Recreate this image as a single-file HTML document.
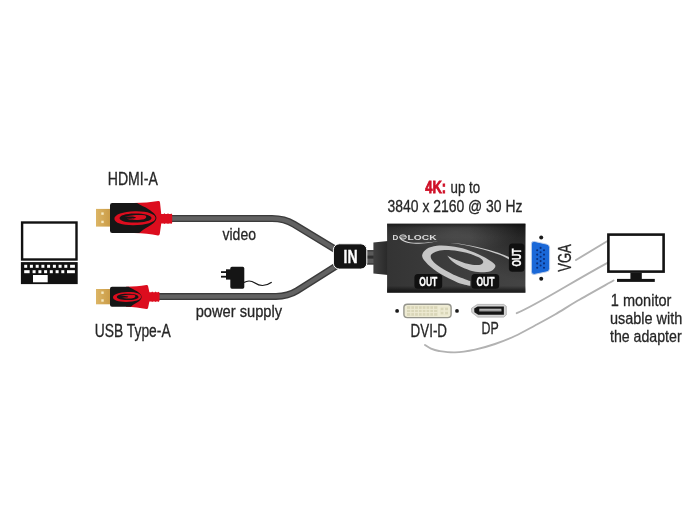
<!DOCTYPE html>
<html>
<head>
<meta charset="utf-8">
<title>Adapter diagram</title>
<style>
  html, body { margin: 0; padding: 0; background: #ffffff; }
  body { width: 700px; height: 530px; overflow: hidden; font-family: "Liberation Sans", sans-serif; }
  svg { display: block; }
  text { font-family: "Liberation Sans", sans-serif; }
  .t { fill: #262626; font-size: 17.8px; stroke: #262626; stroke-width: 0.3px; }
</style>
</head>
<body>
<svg style="will-change:transform" width="700" height="530" viewBox="0 0 700 530">
  <defs>
    <linearGradient id="cab" x1="0" y1="0" x2="0" y2="1">
      <stop offset="0" stop-color="#3a3a3a"/>
      <stop offset="0.3" stop-color="#6a6a6a"/>
      <stop offset="0.7" stop-color="#5a5a5a"/>
      <stop offset="1" stop-color="#333333"/>
    </linearGradient>
    <linearGradient id="gold" x1="0" y1="0" x2="1" y2="0">
      <stop offset="0" stop-color="#dcb565"/>
      <stop offset="1" stop-color="#c99a45"/>
    </linearGradient>
    <linearGradient id="body" x1="0" y1="0" x2="1" y2="0">
      <stop offset="0" stop-color="#343434"/>
      <stop offset="0.45" stop-color="#3c3c3c"/>
      <stop offset="1" stop-color="#444444"/>
    </linearGradient>
    <radialGradient id="bodyr" gradientUnits="userSpaceOnUse" cx="528" cy="222" r="60">
      <stop offset="0" stop-color="#000" stop-opacity="0.6"/>
      <stop offset="0.5" stop-color="#000" stop-opacity="0.3"/>
      <stop offset="1" stop-color="#000" stop-opacity="0"/>
    </radialGradient>
    <radialGradient id="bodyl" gradientUnits="userSpaceOnUse" cx="455" cy="232" r="40" gradientTransform="translate(455 232) scale(1.6 0.5) translate(-455 -232)">
      <stop offset="0" stop-color="#fff" stop-opacity="0.09"/>
      <stop offset="1" stop-color="#fff" stop-opacity="0"/>
    </radialGradient>
    <linearGradient id="bodyv" x1="0" y1="0" x2="0" y2="1">
      <stop offset="0" stop-color="#000" stop-opacity="0.5"/>
      <stop offset="0.06" stop-color="#000" stop-opacity="0.15"/>
      <stop offset="0.2" stop-color="#000" stop-opacity="0"/>
      <stop offset="0.9" stop-color="#000" stop-opacity="0"/>
      <stop offset="0.96" stop-color="#000" stop-opacity="0.45"/>
      <stop offset="1" stop-color="#000" stop-opacity="0.6"/>
    </linearGradient>
    <linearGradient id="nub" x1="0" y1="0" x2="1" y2="0">
      <stop offset="0" stop-color="#404040"/>
      <stop offset="1" stop-color="#282828"/>
    </linearGradient>
  </defs>
  <rect x="0" y="0" width="700" height="530" fill="#ffffff"/>

  <!-- connection lines to monitor -->
  <g fill="none" stroke="#b2b2b2" stroke-width="1.9" stroke-linecap="round">
    <path d="M576 260 L607.5 241"/>
    <path d="M516.7 313.2 C540 303 570 283 607.5 262.8"/>
    <path d="M425.0 345.0 C426.0 345.6 428.7 347.7 431.0 348.7 C433.3 349.7 435.0 350.4 439.0 351.0 C443.0 351.6 449.0 352.6 455.0 352.4 C461.0 352.2 468.3 351.0 475.0 349.6 C481.7 348.2 488.3 346.3 495.0 344.0 C501.7 341.7 508.3 339.1 515.0 336.0 C521.7 332.9 528.3 329.1 535.0 325.5 C541.7 321.9 547.9 318.6 555.0 314.5 C562.1 310.4 567.8 306.5 577.5 300.8 C587.2 295.1 607.5 283.9 613.5 280.5"/>
  </g>

  <!-- cables -->
  <g fill="none" stroke-linecap="butt" stroke-linejoin="round">
    <path d="M170 218.5 L272 218.5 Q284.5 218.5 294 224.3 L337 250.4" stroke="#3b3b3b" stroke-width="7.2"/>
    <path d="M170 218.5 L272 218.5 Q284.5 218.5 294 224.3 L337 250.4" stroke="#626262" stroke-width="4.4"/>
    <path d="M158 296.6 L276 296.4 Q288 296.3 297 290.7 L337 265.5" stroke="#3b3b3b" stroke-width="7"/>
    <path d="M158 296.6 L276 296.4 Q288 296.3 297 290.7 L337 265.5" stroke="#626262" stroke-width="4.2"/>
  </g>

  <!-- laptop -->
  <g>
    <rect x="22.1" y="222.5" width="54.4" height="37" fill="#ffffff" stroke="#111111" stroke-width="2.4"/>
    <rect x="20.9" y="262.1" width="56.8" height="22" fill="#111111"/>
    <g fill="#ffffff">
      <rect x="24.2" y="264.8" width="3" height="3"/>
      <rect x="29.9" y="264.8" width="3" height="3"/>
      <rect x="35.7" y="264.8" width="3" height="3"/>
      <rect x="41.4" y="264.8" width="3" height="3"/>
      <rect x="47.1" y="264.8" width="3" height="3"/>
      <rect x="52.9" y="264.8" width="3" height="3"/>
      <rect x="58.6" y="264.8" width="3" height="3"/>
      <rect x="64.3" y="264.8" width="3" height="3"/>
      <rect x="70.1" y="264.8" width="4.8" height="3"/>
      <rect x="24.2" y="270.2" width="5.4" height="3"/>
      <rect x="32.6" y="270.2" width="3" height="3"/>
      <rect x="38.4" y="270.2" width="3" height="3"/>
      <rect x="44.1" y="270.2" width="3" height="3"/>
      <rect x="49.8" y="270.2" width="3" height="3"/>
      <rect x="55.6" y="270.2" width="3" height="3"/>
      <rect x="61.3" y="270.2" width="3" height="3"/>
      <rect x="67" y="270.2" width="7.9" height="3"/>
      <rect x="33" y="275" width="14.7" height="7.3"/>
    </g>
  </g>

  <!-- HDMI plug -->
  <g>
    <rect x="96" y="208.9" width="15" height="17.7" fill="url(#gold)"/>
    <rect x="101.3" y="212.4" width="2.4" height="2.4" fill="#f6e9c0"/>
    <rect x="101.3" y="220.7" width="2.4" height="2.4" fill="#f6e9c0"/>
    <!-- strain relief -->
    <path d="M160 214 L163.6 214 L164.4 213.3 L165.2 214 L167.2 214 L168 213.3 L168.8 214 L170.6 214 L171.3 213.5 L172.2 214.6 L172.2 222.8 L171.3 223.9 L170.6 223.4 L168.8 223.4 L168 224.1 L167.2 223.4 L165.2 223.4 L164.4 224.1 L163.6 223.4 L160 223.4 Z" fill="#dc0d1e"/>
    <!-- red flared shell -->
    <path d="M134 203.1 C143 203.1 151 202.3 158.2 201.1 Q159.7 200.9 160 202.4 L161.2 213.6 L161.2 223.8 L159.8 233.8 Q159.5 235.6 158 235.4 C151 234 143 232.9 134 232.9 Z" fill="#dc0d1e"/>
    <!-- black body with bulge -->
    <path d="M112.2 203.1 L137.1 203.1 C141 205.5 145 207 148.5 209.3 C153 212.3 156.4 215 156.4 218 C156.4 221 153 224 148.5 226.5 C145 228.5 142 230.5 139.3 232.9 L112.2 232.9 Q110 232.9 110 230.7 L110 205.3 Q110 203.1 112.2 203.1 Z" fill="#161616"/>
    <!-- logo swoosh -->
    <path d="M114.4 219 C114.2 214.5 123 211.6 135 211.3 C147 211 155.4 214 155.5 218 C155.6 222.2 146 225.2 133 225.2 C122 225.2 114.6 222.8 114.4 219 Z M119.6 218.2 C119.8 221 126 222.6 134 222.6 C144 222.6 151.6 220.8 151.5 218 C151.4 215.3 144 213.4 134.5 213.5 C125.5 213.6 119.4 215.6 119.6 218.2 Z" fill="#dc0d1e" fill-rule="evenodd"/>
    <path d="M124.6 216.6 C131 215 140 214.6 144.6 215.3 C147 215.8 146.8 218.6 144 219.2 C139 220.4 131 220.2 126.6 218.8 C131 218.9 136 218.5 136.1 217.6 C136.2 216.6 130 216.2 124.6 216.6 Z" fill="#dc0d1e"/>
  </g>

  <!-- USB plug -->
  <g>
    <rect x="96" y="289" width="15" height="15.3" fill="url(#gold)"/>
    <rect x="101.3" y="291.5" width="2.4" height="2.4" fill="#f6e9c0"/>
    <rect x="101.3" y="299.3" width="2.4" height="2.4" fill="#f6e9c0"/>
    <path d="M148 292.2 L151.4 292.2 L152.2 291.5 L153 292.2 L154.8 292.2 L155.6 291.5 L156.4 292.2 L158 292.2 L158.7 291.7 L159.5 292.8 L159.5 300.8 L158.7 301.9 L158 301.4 L156.4 301.4 L155.6 302.1 L154.8 301.4 L153 301.4 L152.2 302.1 L151.4 301.4 L148 301.4 Z" fill="#dc0d1e"/>
    <path d="M126 286.7 C134 286.7 140 286.1 146.4 285 Q147.8 284.8 148.1 286.2 L149.4 292.2 L149.4 301.6 L148.1 307.8 Q147.8 309.2 146.4 309 C140 307.7 134 306.7 126 306.7 Z" fill="#dc0d1e"/>
    <path d="M112 286.7 L128.6 286.7 C131.5 288.3 134.5 289.6 137 291.3 C140 293.4 141.6 295.2 141.6 297 C141.6 298.8 140 300.8 137 302.6 C134.5 304.1 132.5 305.2 131 306.7 L112 306.7 Q110 306.7 110 304.7 L110 288.7 Q110 286.7 112 286.7 Z" fill="#161616"/>
    <path d="M113 297.6 C112.9 294.4 119 292.3 127.4 292.1 C135.8 291.9 141.2 294 141.3 296.8 C141.4 299.8 135 302 126 302 C118.4 302 113.1 300.3 113 297.6 Z M116.8 297.1 C116.9 299 121.4 300.1 127 300.1 C134 300.1 138.6 298.8 138.5 296.9 C138.4 295 133.4 293.7 127 293.8 C120.8 293.9 116.7 295.3 116.8 297.1 Z" fill="#dc0d1e" fill-rule="evenodd"/>
    <path d="M120.4 296 C125 294.9 131 294.6 134.2 295.1 C135.9 295.5 135.7 297.5 133.8 298 C130.4 298.8 125 298.7 121.8 297.7 C124.8 297.8 128.2 297.5 128.3 296.8 C128.4 296.1 124 295.8 120.4 296 Z" fill="#dc0d1e"/>
  </g>

  <!-- power supply icon -->
  <g fill="#151515">
    <rect x="230.3" y="266.8" width="14" height="21.9" rx="1.6"/>
    <rect x="226" y="269.3" width="5" height="10.3"/>
    <rect x="221" y="271.2" width="5.6" height="1.8"/>
    <rect x="221" y="275.8" width="5.6" height="1.8"/>
    <path d="M244 282.6 C247 280.6 251 280.4 255 283 C259 285.8 265 286.8 271.7 282.2" fill="none" stroke="#151515" stroke-width="1.2"/>
  </g>

  <!-- IN box and short cable to adapter -->
  <g>
    <rect x="365" y="250.2" width="9" height="14.3" fill="#5a5a5a"/>
    <rect x="365" y="250.2" width="9" height="1.2" fill="#3a3a3a"/>
    <rect x="365" y="255.6" width="9" height="3" fill="#2e2e2e"/>
    <rect x="365" y="263.3" width="9" height="1.2" fill="#3a3a3a"/>
    <rect x="333.4" y="243.8" width="33.4" height="25.3" rx="6" fill="#141414" stroke="#ffffff" stroke-width="1"/>
    <text x="350.5" y="263" font-size="18.4" font-weight="bold" fill="#ffffff" stroke="#ffffff" stroke-width="0.35" text-anchor="middle" textLength="14" lengthAdjust="spacingAndGlyphs">IN</text>
  </g>

  <!-- adapter -->
  <g>
    <path d="M373.4 242.6 L388 241 L388 275 L373.4 273.6 Z" fill="url(#nub)"/>
    <rect x="387.1" y="223.7" width="138.3" height="69" fill="url(#body)"/>
    <rect x="387.1" y="223.7" width="138.3" height="69" fill="url(#bodyr)"/>
    <rect x="387.1" y="223.7" width="138.3" height="69" fill="url(#bodyl)"/>
    <rect x="387.1" y="223.7" width="138.3" height="69" fill="url(#bodyv)"/>
    <!-- swirl -->
    <path d="M470.3 285.8 C468.1 285.2 462.3 284.3 457.4 282.4 C452.5 280.4 445.6 277.1 440.7 274.1 C435.8 271.1 431.0 267.4 427.9 264.4 C424.8 261.4 422.3 258.7 422.1 256.1 C421.9 253.5 424.1 250.7 426.6 249.0 C429.1 247.3 432.8 246.3 436.9 245.8 C441.0 245.3 446.1 245.6 451.0 246.2 C455.9 246.8 461.2 247.8 466.4 249.4 C471.5 251.0 477.6 253.8 481.9 255.9 C486.2 258.0 489.9 260.2 492.1 261.9 C494.4 263.6 495.4 264.6 495.4 266.0 C495.4 267.4 493.9 269.4 492.1 270.4 C490.3 271.4 487.6 272.1 484.4 272.2 C481.2 272.3 476.8 272.1 473.0 271.2 C469.2 270.3 464.9 268.6 461.5 267.0 C458.1 265.4 454.9 263.3 452.5 261.4 C450.1 259.5 448.0 256.4 447.1 255.4 C448.8 256.2 453.9 258.8 457.3 260.2 C460.7 261.6 464.5 263.0 467.6 263.8 C470.7 264.6 473.8 265.0 476.0 265.1 C478.2 265.2 479.8 264.9 481.0 264.4 C482.2 263.9 483.0 263.0 483.2 262.2 C483.4 261.4 482.9 260.5 482.0 259.6 C481.1 258.7 480.1 258.0 477.5 256.8 C474.9 255.7 470.8 253.8 466.4 252.7 C462.0 251.6 455.7 250.5 451.0 250.2 C446.3 249.9 441.4 250.1 438.1 250.9 C434.8 251.7 432.1 253.2 431.1 254.8 C430.2 256.4 430.8 258.5 432.4 260.6 C434.0 262.7 437.2 265.2 440.7 267.6 C444.2 270.0 448.7 272.4 453.6 274.7 C458.5 276.9 467.5 280.0 470.3 281.1 Z" fill="#c6c6c6"/>
    <path d="M450 243 C462 243.8 480 248.2 495 253.2 C501 255.2 506 257.4 509.5 259.7 L509.5 257.3 C506 255.5 501 253.6 495 251.7 C480 247 462 243.3 450 243 Z" fill="#c8c8c8"/>
    <!-- logo -->
    <g fill="#dcdcdc" font-weight="bold" font-size="7.1">
      <text x="392.4" y="239.5" textLength="5.8" lengthAdjust="spacingAndGlyphs">D</text>
      <text x="407.6" y="239.5" textLength="29" lengthAdjust="spacingAndGlyphs">LOCK</text>
    </g>
    <ellipse cx="403" cy="237" rx="3.4" ry="2.1" fill="none" stroke="#dcdcdc" stroke-width="1"/>
    <path d="M399.4 237.6 C400 241 408 243.8 416 243.8 C424 243.8 433 242.8 438.3 240.8 C433 242.4 424 243 416.5 242.8 C409 242.6 402 240.6 401 237.4 Z" fill="#d6d6d6"/>
    <path d="M400.2 237.2 L406 236.6" stroke="#dcdcdc" stroke-width="0.8"/>
    <!-- OUT labels -->
    <g font-size="12" font-weight="bold" fill="#ffffff" stroke="#ffffff" stroke-width="0.35" text-anchor="middle">
      <rect x="414.4" y="274" width="27.8" height="14.8" rx="3.5" fill="#101010" stroke="none"/>
      <text x="428.3" y="285.6" textLength="18" lengthAdjust="spacingAndGlyphs">OUT</text>
      <rect x="471.4" y="274" width="27.8" height="14.8" rx="3.5" fill="#101010" stroke="none"/>
      <text x="485.4" y="285.6" textLength="18" lengthAdjust="spacingAndGlyphs">OUT</text>
      <rect x="508.9" y="243.5" width="15.6" height="28.3" rx="3.5" fill="#101010" stroke="none"/>
      <text transform="translate(521 257.6) rotate(-90)" textLength="18" lengthAdjust="spacingAndGlyphs">OUT</text>
    </g>
  </g>

  <!-- VGA connector -->
  <g>
    <circle cx="541.2" cy="237.6" r="2" fill="#1a1a1a"/>
    <circle cx="541.2" cy="278.8" r="2" fill="#1a1a1a"/>
    <path d="M534.4 241.4 L547 244.2 Q549.6 244.9 549.6 247.6 L549.6 268.6 Q549.6 271.2 547 271.8 L534.4 274.4 Q531.4 274.8 531.4 271.8 L531.4 244 Q531.4 241 534.4 241.4 Z" fill="#1a68d8" stroke="#c4d2ea" stroke-width="0.9"/>
    <g fill="#0a2f7c"><circle cx="537.2" cy="250.2" r="1.05"/><circle cx="537.2" cy="254.6" r="1.05"/><circle cx="537.2" cy="259.0" r="1.05"/><circle cx="537.2" cy="263.4" r="1.05"/><circle cx="537.2" cy="267.8" r="1.05"/><circle cx="540.6" cy="247.9" r="1.05"/><circle cx="540.6" cy="252.3" r="1.05"/><circle cx="540.6" cy="256.7" r="1.05"/><circle cx="540.6" cy="261.1" r="1.05"/><circle cx="540.6" cy="265.5" r="1.05"/><circle cx="544.0" cy="250.2" r="1.05"/><circle cx="544.0" cy="254.6" r="1.05"/><circle cx="544.0" cy="259.0" r="1.05"/><circle cx="544.0" cy="263.4" r="1.05"/><circle cx="544.0" cy="267.8" r="1.05"/></g>
    <text class="t" transform="translate(570.5 258) rotate(-90)" font-size="18.2" text-anchor="middle" textLength="27.6" lengthAdjust="spacingAndGlyphs">VGA</text>
  </g>

  <!-- DVI-D connector -->
  <g>
    <circle cx="397.1" cy="310.9" r="1.9" fill="#1a1a1a"/>
    <circle cx="457" cy="310.9" r="1.9" fill="#1a1a1a"/>
    <rect x="403.9" y="304.2" width="47.2" height="13.4" rx="3.4" fill="#eeebd3" stroke="#94948c" stroke-width="1.4"/>
    <g fill="#d9d6b8">
      <rect x="407" y="306.2" width="30.4" height="9.6"/>
      <rect x="440.6" y="307.6" width="7.4" height="6.8"/>
    </g>
    <g stroke="#eeebd3" stroke-width="1" fill="none">
      <path d="M407 309.4 H437.4 M407 312.6 H437.4"/>
      <path d="M410.8 306.2 V315.8 M414.6 306.2 V315.8 M418.4 306.2 V315.8 M422.2 306.2 V315.8 M426 306.2 V315.8 M429.8 306.2 V315.8 M433.6 306.2 V315.8"/>
      <path d="M440.6 311 H448 M444.3 307.6 V314.4" stroke-width="1.6"/>
    </g>
  </g>

  <!-- DP connector -->
  <g>
    <path d="M471.6 308.2 L477.4 304.4 L503.8 304.4 L506.3 306.3 L506.3 314.9 L503.8 317.1 L477.8 317.1 L471.9 312.6 Q471.4 310.4 471.6 308.2 Z" fill="#d4d4d4" stroke="#a2a2a2" stroke-width="0.7" stroke-linejoin="round"/>
    <path d="M474.2 308.6 L477.6 306.5 L503.9 306.5 L503.9 314.8 L478.2 314.8 L474.4 312.2 Z" fill="#151515"/>
    <rect x="479.3" y="308.7" width="22.1" height="2.6" fill="#b4b4b4"/>
    <rect x="479.3" y="310.6" width="22.1" height="0.7" fill="#7a7a7a"/>
  </g>

  <!-- monitor -->
  <g>
    <rect x="608.4" y="234.6" width="55.2" height="37" fill="#ffffff" stroke="#131313" stroke-width="2.6"/>
    <rect x="630.4" y="272.8" width="11.4" height="6.6" fill="#131313"/>
    <rect x="617" y="278.9" width="37.8" height="3" fill="#131313"/>
  </g>

  <!-- text labels -->
  <g class="t">
    <text x="107.8" y="184.8" font-size="18" textLength="50" lengthAdjust="spacingAndGlyphs">HDMI-A</text>
    <text x="222.5" y="239.6" font-size="17.3" textLength="33.5" lengthAdjust="spacingAndGlyphs">video</text>
    <text x="195.7" y="317.3" font-size="16.8" textLength="86.4" lengthAdjust="spacingAndGlyphs">power supply</text>
    <text x="94.7" y="336.7" font-size="17.5" textLength="76" lengthAdjust="spacingAndGlyphs">USB Type-A</text>
    <text x="425.3" y="193.4" font-size="16.7" textLength="20.8" lengthAdjust="spacingAndGlyphs" font-weight="bold" style="fill:#cf1027;stroke:#cf1027;stroke-width:0.8px">4K:</text>
    <text x="450.6" y="193.4" font-size="16.7" textLength="29.5" lengthAdjust="spacingAndGlyphs">up to</text>
    <text x="387.6" y="212" font-size="16.3" textLength="134.8" lengthAdjust="spacingAndGlyphs">3840 x 2160 @ 30 Hz</text>
    <text x="410.6" y="336.8" font-size="17.6" textLength="36.4" lengthAdjust="spacingAndGlyphs">DVI-D</text>
    <text x="481.6" y="334" font-size="17.4" textLength="17.2" lengthAdjust="spacingAndGlyphs">DP</text>
    <text x="610.8" y="305.6" font-size="16.8" textLength="60.6" lengthAdjust="spacingAndGlyphs">1 monitor</text>
    <text x="610" y="323.6" font-size="16.8" textLength="72.3" lengthAdjust="spacingAndGlyphs">usable with</text>
    <text x="610" y="341.6" font-size="16.8" textLength="71.6" lengthAdjust="spacingAndGlyphs">the adapter</text>
  </g>
</svg>
</body>
</html>
